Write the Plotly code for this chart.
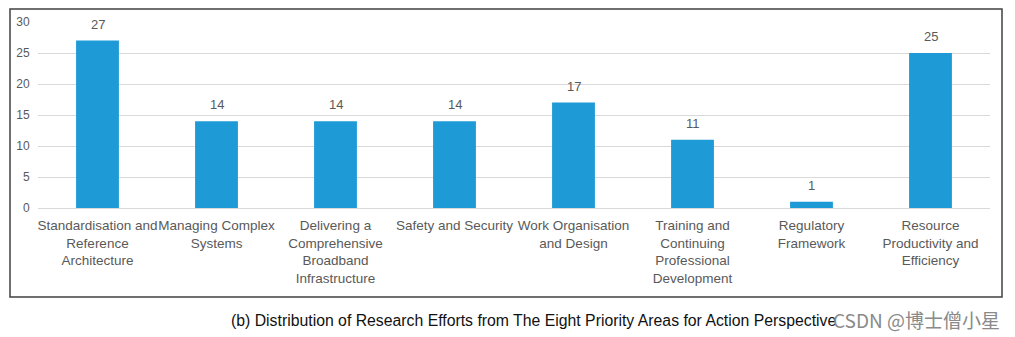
import plotly.graph_objects as go

categories = [
    "Standardisation and<br>Reference<br>Architecture",
    "Managing Complex<br>Systems",
    "Delivering a<br>Comprehensive<br>Broadband<br>Infrastructure",
    "Safety and Security",
    "Work Organisation<br>and Design",
    "Training and<br>Continuing<br>Professional<br>Development",
    "Regulatory<br>Framework",
    "Resource<br>Productivity and<br>Efficiency",
]
values = [27, 14, 14, 14, 17, 11, 1, 25]
y_ticks = [0, 5, 10, 15, 20, 25, 30]

W, H = 1015, 337
L, R, T, B = 38, 25, 22, 129
pw, ph = W - L - R, H - T - B

def px(x):
    return (x - L) / pw

def py(y):
    return (H - B - y) / ph

fig = go.Figure(go.Bar(
    x=categories, y=values,
    marker=dict(color="#1E9BD7", line=dict(width=0)),
    width=0.36,
))

value_labels = [
    dict(x=c, y=v, text=str(v), xref="x", yref="y", showarrow=False,
         yanchor="bottom", yshift=7,
         font=dict(family="Liberation Sans, Arial", size=13, color="#595959"))
    for c, v in zip(categories, values)
]

fig.update_layout(
    width=W, height=H,
    margin=dict(l=L, r=R, t=T, b=B),
    paper_bgcolor="white", plot_bgcolor="white",
    showlegend=False,
    font=dict(family="Liberation Sans, Arial", color="#595959"),
    xaxis=dict(
        tickfont=dict(size=13.5, color="#595959"),
        ticks="outside", ticklen=5, tickcolor="rgba(0,0,0,0)",
        showline=False, tickangle=0,
    ),
    yaxis=dict(
        range=[0, 30], tickvals=y_ticks,
        tickfont=dict(size=12, color="#595959"),
        showgrid=True, gridcolor="#D9D9D9", gridwidth=1,
        zeroline=True, zerolinecolor="#D9D9D9", zerolinewidth=1,
        ticks="outside", ticklen=5, tickcolor="rgba(0,0,0,0)",
    ),
    shapes=[dict(
        type="rect", xref="paper", yref="paper",
        x0=px(10), x1=px(1002), y0=py(297), y1=py(9),
        line=dict(color="#404040", width=1.5), fillcolor="rgba(0,0,0,0)",
    )],
    annotations=value_labels + [
        dict(text="(b) Distribution of Research Efforts from The Eight Priority Areas for Action Perspective",
             xref="paper", yref="paper", x=px(229), y=py(320),
             xanchor="left", yanchor="middle", showarrow=False,
             font=dict(family="Liberation Sans, Arial", size=15.8, color="#111111")),
        dict(text="CSDN @博士僧小星",
             xref="paper", yref="paper", x=px(831), y=py(319),
             xanchor="left", yanchor="middle", showarrow=False,
             font=dict(family="Noto Sans CJK SC", size=19, color="#8A8A8A")),
    ],
)

fig.write_html("out.html")
